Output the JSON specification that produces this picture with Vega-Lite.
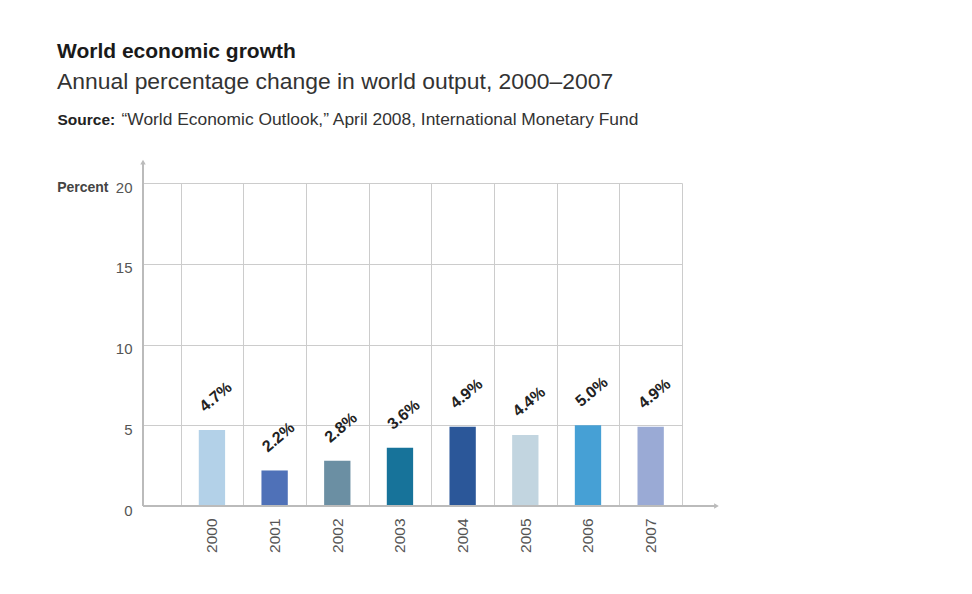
{
  "$schema": "https://vega.github.io/schema/vega-lite/v6.json",
  "autosize": "none",
  "width": 539,
  "height": 323,
  "padding": {"left": 143, "top": 183, "right": 290, "bottom": 88},
  "background": "white",
  "config": {
    "font": "Liberation Sans",
    "view": {"stroke": null}
  },
  "title": {
    "text": "World economic growth",
    "subtitle": "Annual percentage change in world output, 2000–2007",
    "anchor": "start",
    "frame": "group",
    "dx": -86,
    "offset": 16,
    "fontSize": 21,
    "fontWeight": "bold",
    "color": "#1a1a1a",
    "subtitleFontSize": 22.9,
    "subtitleColor": "#333333",
    "subtitlePadding": 9
  },
  "resolve": {"scale": {"x": "independent", "y": "independent"}, "axis": {"x": "independent", "y": "independent"}},
  "layer": [
    {
      "data": {"values": [
        {"year": "2000", "growth": 4.7},
        {"year": "2001", "growth": 2.2},
        {"year": "2002", "growth": 2.8},
        {"year": "2003", "growth": 3.6},
        {"year": "2004", "growth": 4.9},
        {"year": "2005", "growth": 4.4},
        {"year": "2006", "growth": 5.0},
        {"year": "2007", "growth": 4.9}
      ]},
      "transform": [{"calculate": "format(datum.growth, '.1f') + '%'", "as": "label"}],
      "encoding": {
        "x": {
          "field": "year", "type": "nominal",
          "scale": {"paddingInner": 0, "paddingOuter": 0.3, "align": 1},
          "axis": {
            "title": null, "domain": false, "ticks": false, "tickBand": "extent",
            "grid": true, "gridColor": "#cccccc", "gridWidth": 1,
            "labelAngle": -90, "labelAlign": "right", "labelBaseline": "middle",
            "labelPadding": 12, "labelFontSize": 15.5, "labelColor": "#555555"
          }
        },
        "y": {
          "field": "growth", "type": "quantitative",
          "scale": {"domain": [0, 20], "nice": false},
          "axis": {
            "values": [0, 5, 10, 15, 20], "domain": false, "ticks": false,
            "grid": true, "gridColor": "#cccccc", "gridWidth": 1,
            "labelPadding": 11, "labelFontSize": 15, "labelColor": "#555555", "labelOffset": 4,
            "title": "Percent", "titleAngle": 0, "titleAlign": "right", "titleBaseline": "middle",
            "titleX": -35, "titleY": 4, "titleFontSize": 14, "titleFontWeight": "bold", "titleColor": "#444444"
          }
        }
      },
      "layer": [
        {
          "mark": {"type": "bar", "width": {"band": 0.42}},
          "encoding": {
            "color": {
              "field": "year", "type": "nominal", "legend": null,
              "scale": {
                "domain": ["2000", "2001", "2002", "2003", "2004", "2005", "2006", "2007"],
                "range": ["#b3d1e8", "#4f71b8", "#6b8fa3", "#17739a", "#2b5799", "#c2d5e0", "#46a0d5", "#9aaad5"]
              }
            }
          }
        },
        {
          "mark": {"type": "text", "angle": -40, "align": "left", "baseline": "alphabetic", "dx": 6, "dy": -18, "fontSize": 16, "fontWeight": "bold", "color": "#222222"},
          "encoding": {"text": {"field": "label"}}
        }
      ]
    },
    {
      "data": {"values": [
        {"x": 0, "y": 0, "x2": 0, "y2": 21.3, "shape": "triangle-up"},
        {"x": 0, "y": 0, "x2": 9.15, "y2": 0, "shape": "triangle-right"}
      ]},
      "encoding": {
        "y": {
          "field": "y", "type": "quantitative",
          "scale": {"domain": [0, 20], "nice": false},
          "axis": {
            "orient": "right", "domain": false, "ticks": false, "labels": false, "grid": false,
            "title": "“World Economic Outlook,” April 2008, International Monetary Fund",
            "titleFontSize": 17.4, "titleFontWeight": "normal", "titleColor": "#333333",
            "titleAlign": "left", "titleBaseline": "alphabetic", "titleAngle": 0,
            "titleX": -561, "titleY": -59
          }
        }
      },
      "layer": [
        {
          "mark": {"type": "rule", "color": "#bbbbbb", "strokeWidth": 2, "clip": false},
          "encoding": {
            "x": {
              "field": "x", "type": "quantitative",
              "scale": {"domain": [0, 8.6], "nice": false, "zero": false},
              "axis": {
                "orient": "top", "domain": false, "ticks": false, "labels": false, "grid": false,
                "title": "Source:", "titleFontSize": 15.5, "titleFontWeight": "bold", "titleColor": "#222222",
                "titleAlign": "left", "titleBaseline": "alphabetic", "titleAnchor": null, "titleAngle": 0,
                "titleX": -86, "titleY": -59
              }
            },
            "x2": {"field": "x2"},
            "y2": {"field": "y2"}
          }
        },
        {
          "mark": {"type": "point", "filled": true, "color": "#bbbbbb", "size": 30, "opacity": 1, "clip": false},
          "encoding": {
            "x": {"field": "x2", "type": "quantitative"},
            "y": {"field": "y2", "type": "quantitative"},
            "shape": {"field": "shape", "type": "nominal", "scale": null, "legend": null}
          }
        }
      ]
    }
  ]
}
